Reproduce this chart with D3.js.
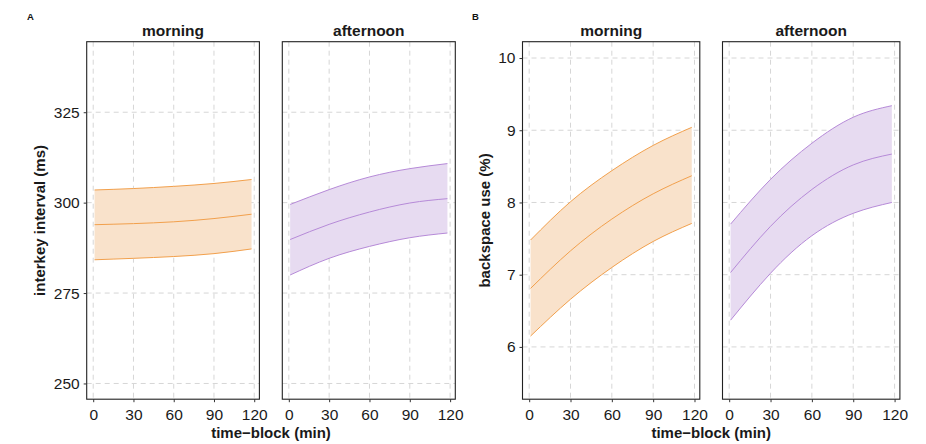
<!DOCTYPE html>
<html>
<head>
<meta charset="utf-8">
<script src="https://cdn.jsdelivr.net/npm/d3@7"></script>
<style>
  body { margin: 0; background: #fff; }
  svg { font-family: "Liberation Sans", Arial, Helvetica, sans-serif; }
  .tick text { font-size: 15.5px; fill: #1a1a1a; }
  .tick line { stroke: #333; }
  .grid line { stroke: #d6d6d6; stroke-dasharray: 5,4; }
</style>
</head>
<body>
<div id="chart"></div>
<script>
(function() {
  var width = 926;
  var height = 444;

  // data
  var timeBlocks = [1, 30, 60, 90, 118];
  var xTicks = [0, 30, 60, 90, 120];
  var sessions = ['morning', 'afternoon'];

  var ikiMorningMean = [293.9, 294.2, 294.7, 295.6, 296.8];
  var ikiMorningLow = [284.2, 284.6, 285.1, 285.9, 287.2];
  var ikiMorningHigh = [303.5, 303.9, 304.5, 305.3, 306.4];
  var ikiAfternoonMean = [289.8, 294.0, 297.4, 299.9, 301.1];
  var ikiAfternoonLow = [280.0, 284.6, 287.9, 290.3, 291.6];
  var ikiAfternoonHigh = [299.5, 303.6, 307.1, 309.4, 310.8];
  var ikiTicks = [250, 275, 300, 325];

  var bsMorningMean = [6.81, 7.33, 7.77, 8.12, 8.37];
  var bsMorningLow = [6.15, 6.66, 7.10, 7.46, 7.71];
  var bsMorningHigh = [7.48, 8.01, 8.44, 8.79, 9.04];
  var bsAfternoonMean = [7.03, 7.67, 8.18, 8.52, 8.67];
  var bsAfternoonLow = [6.37, 7.02, 7.54, 7.85, 8.00];
  var bsAfternoonHigh = [7.70, 8.32, 8.82, 9.18, 9.34];
  var bsTicks = [6, 7, 8, 9, 10];

  var colors = {
    morning: { line: '#f2a04c', fill: '#f9e2cb' },
    afternoon: { line: '#b68ad8', fill: '#e7dbf1' }
  };

  var svg = d3.select('#chart').append('svg')
    .attr('width', width)
    .attr('height', height);

  var top = 41.7;
  var bottom = 399.2;

  /*
   * Builds the point list of one ribbon from its arrays
   */
  function toRows(mean, low, high) {
    return timeBlocks.map(function(t, i) {
      return { t: t, mean: mean[i], low: low[i], high: high[i] };
    });
  }

  var figures = [
    {
      letter: 'A', letterX: 27, titleX: 40,
      yLabel: 'interkey interval (ms)',
      yDomain: [245.65, 344.5], yTicks: ikiTicks,
      panels: [
        { left: 86.7, right: 259.4, session: sessions[0], rows: toRows(ikiMorningMean, ikiMorningLow, ikiMorningHigh) },
        { left: 282.3, right: 455.3, session: sessions[1], rows: toRows(ikiAfternoonMean, ikiAfternoonLow, ikiAfternoonHigh) }
      ]
    },
    {
      letter: 'B', letterX: 472, titleX: 485,
      yLabel: 'backspace use (%)',
      yDomain: [5.276, 10.226], yTicks: bsTicks,
      panels: [
        { left: 522.5, right: 699.8, session: sessions[0], rows: toRows(bsMorningMean, bsMorningLow, bsMorningHigh) },
        { left: 722.5, right: 899.9, session: sessions[1], rows: toRows(bsAfternoonMean, bsAfternoonLow, bsAfternoonHigh) }
      ]
    }
  ];

  figures.forEach(renderFigure);

  /*
   * Draws one lettered figure: two faceted panels sharing a y axis
   */
  function renderFigure(fig) {
    var y = d3.scaleLinear().domain(fig.yDomain).range([bottom, top]);

    fig.panels.forEach(function(p, pi) {
      var x = d3.scaleLinear().domain([-4.85, 123.85]).range([p.left, p.right]);
      var g = svg.append('g');

      // grid
      var grid = g.append('g').attr('class', 'grid');
      grid.selectAll('.vx').data(xTicks).enter().append('line')
        .attr('x1', x).attr('x2', x)
        .attr('y1', top).attr('y2', bottom);
      grid.selectAll('.hy').data(fig.yTicks).enter().append('line')
        .attr('x1', p.left).attr('x2', p.right)
        .attr('y1', y).attr('y2', y);

      var c = colors[p.session];
      var area = d3.area()
        .x(function(d) { return x(d.t); })
        .y0(function(d) { return y(d.low); })
        .y1(function(d) { return y(d.high); })
        .curve(d3.curveNatural);
      g.append('path').datum(p.rows)
        .attr('d', area)
        .attr('fill', c.fill);

      ['low', 'mean', 'high'].forEach(function(key) {
        var line = d3.line()
          .x(function(d) { return x(d.t); })
          .y(function(d) { return y(d[key]); })
          .curve(d3.curveNatural);
        g.append('path').datum(p.rows)
          .attr('d', line)
          .attr('fill', 'none')
          .attr('stroke', c.line)
          .attr('stroke-width', 1);
      });

      // panel border
      g.append('rect')
        .attr('x', p.left).attr('y', top)
        .attr('width', p.right - p.left).attr('height', bottom - top)
        .attr('fill', 'none')
        .attr('stroke', '#222')
        .attr('stroke-width', 1.1);

      // strip title
      g.append('text')
        .attr('x', (p.left + p.right) / 2)
        .attr('y', 35.5)
        .attr('text-anchor', 'middle')
        .attr('font-size', 15.5)
        .attr('font-weight', 'bold')
        .attr('fill', '#1a1a1a')
        .text(p.session);

      // x axis
      var xAxis = g.append('g')
        .attr('transform', 'translate(0,' + bottom + ')')
        .call(d3.axisBottom(x).tickValues(xTicks).tickSize(3).tickPadding(7));
      xAxis.select('.domain').remove();

      if (pi === 0) {
        var yAxis = g.append('g')
          .attr('transform', 'translate(' + p.left + ',0)')
          .call(d3.axisLeft(y).tickValues(fig.yTicks).tickFormat(d3.format('d')).tickSize(3).tickPadding(4));
        yAxis.select('.domain').remove();
      }
    });

    // y title
    svg.append('text')
      .attr('transform', 'translate(' + fig.titleX + ',' + ((top + bottom) / 2) + ') rotate(-90)')
      .attr('dy', '0.36em')
      .attr('text-anchor', 'middle')
      .attr('font-size', 15)
      .attr('font-weight', 'bold')
      .attr('fill', '#1a1a1a')
      .text(fig.yLabel);

    // x title, centred under both panels
    var p0 = fig.panels[0];
    var p1 = fig.panels[1];
    svg.append('text')
      .attr('x', (p0.left + p1.right) / 2)
      .attr('y', 437.5)
      .attr('text-anchor', 'middle')
      .attr('font-size', 15)
      .attr('font-weight', 'bold')
      .attr('fill', '#1a1a1a')
      .text('time\u2212block (min)');

    // figure letter
    svg.append('text')
      .attr('x', fig.letterX)
      .attr('y', 19.5)
      .attr('font-size', 9.5)
      .attr('font-weight', 'bold')
      .attr('fill', '#111')
      .text(fig.letter);
  }
}).call(this);
</script>
</body>
</html>
